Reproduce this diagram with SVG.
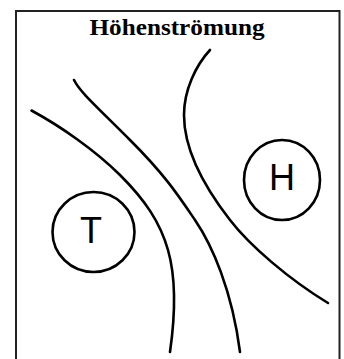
<svg xmlns="http://www.w3.org/2000/svg" width="344" height="359" viewBox="0 0 344 359">
<style>
.line{fill:none;stroke:#000;stroke-width:2.6;stroke-linecap:round;stroke-linejoin:round}
.lbl{font-family:"Liberation Sans",Arial,sans-serif;font-size:36px;fill:#000;text-anchor:middle}
</style>
<rect width="344" height="359" fill="#fff"/>
<path d="M16,360 V11 H339.5 V360" fill="none" stroke="#222" stroke-width="2"/>
<text x="177" y="35" font-family="'Liberation Serif','Times New Roman',serif" font-weight="bold" font-size="24" text-anchor="middle" textLength="175" lengthAdjust="spacingAndGlyphs">Höhenströmung</text>
<g id="connectors">
<path class="line" d="M31.5,110.5 C60,126 95,150 120,175 S160,222 168,250 S176,310 170,352"/>
<path class="line" d="M74,80 C80,92 95,105 130,140 S178,195 195,220 S232,290 240,352"/>
<path class="line" d="M210,50 C196,65 184,90 184,115 S195,175 230,220 C250,246 290,280 328,303"/>
</g>
<g id="T">
<ellipse class="line" cx="93.5" cy="232" rx="41" ry="40"/>
<text class="lbl" x="91" y="243">T</text>
</g>
<g id="H">
<ellipse class="line" cx="282" cy="180" rx="38" ry="40"/>
<text class="lbl" x="282" y="190" font-size="37">H</text>
</g>
</svg>
